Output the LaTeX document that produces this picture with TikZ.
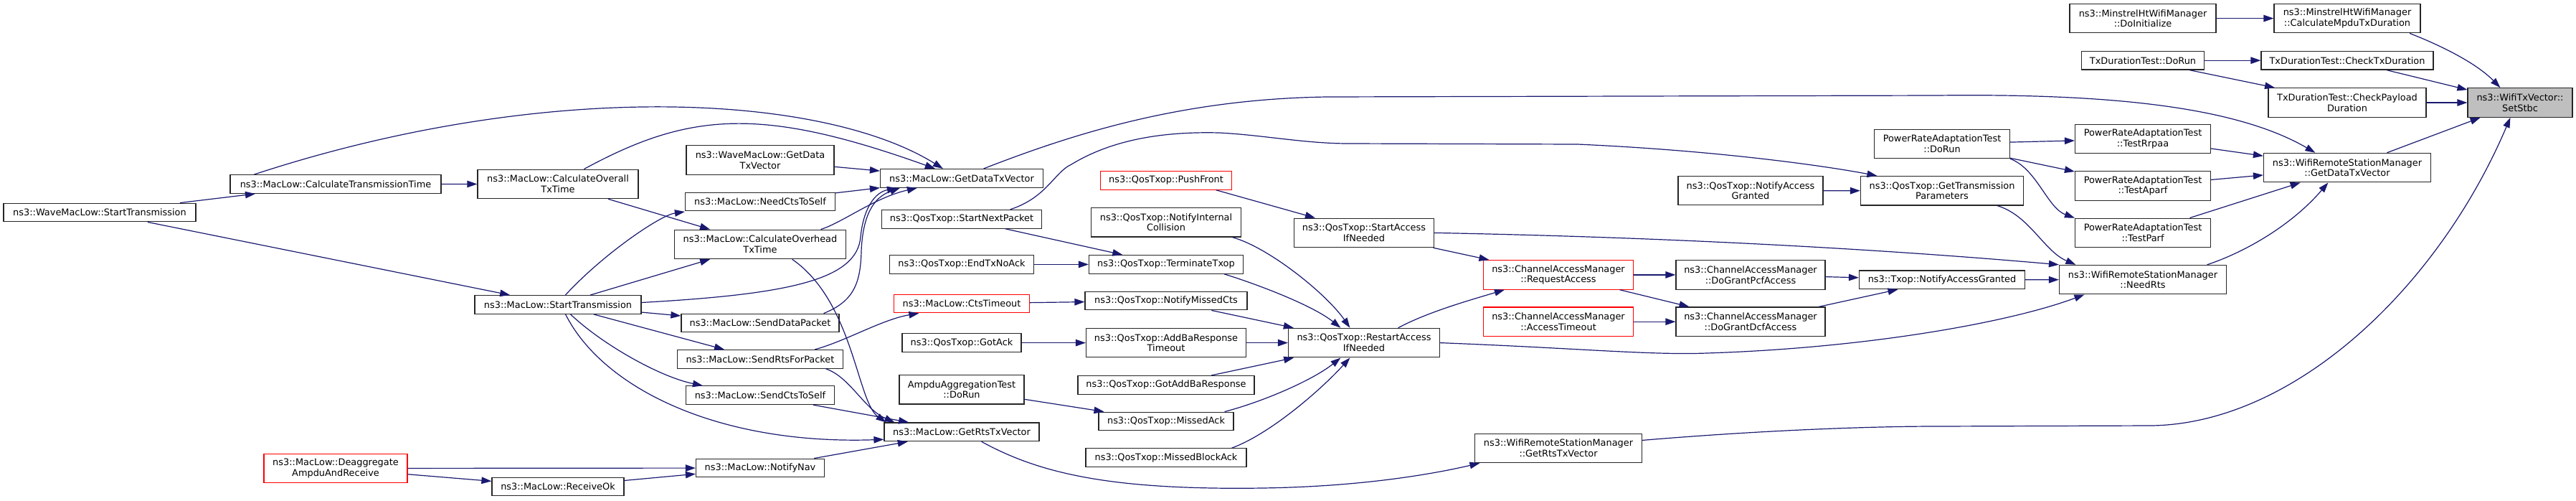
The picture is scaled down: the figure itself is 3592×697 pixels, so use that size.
\documentclass[tikz,border=0pt]{standalone}
\usepackage{fontspec}
\setmainfont{DejaVu Sans}
\usepackage{tikz}
\usetikzlibrary{arrows.meta}
\definecolor{EdgeNavy}{HTML}{191970}
\definecolor{NodeGrey}{HTML}{BFBFBF}
\tikzset{
  fn/.style={draw=black!85, line width=1.2pt, fill=white, align=center,
    inner xsep=3pt, inner ysep=2pt, minimum height=25.7pt,
    font={\fontsize{12.9pt}{14.7pt}\selectfont}},
  fntwo/.style={fn, minimum height=40.5pt},
  fnred/.style={draw=red},
  fnsel/.style={fill=NodeGrey},
  call/.style={draw=EdgeNavy, line width=1.2pt, -{Triangle[length=14pt,width=9.5pt]}}
}

\begin{document}
\begin{tikzpicture}[x=1pt,y=-1pt]
  \useasboundingbox (0,0) rectangle (3592,697);

  % column 1 and 2
  \node[fn, minimum width=268pt] (waveStartTx) at (139,296) {ns3::WaveMacLow::StartTransmission};
  \node[fn, minimum width=294pt] (calcTransTime) at (468,256.5) {ns3::MacLow::CalculateTransmissionTime};
  \node[fntwo, fnred, minimum width=200pt] (deaggregate) at (468,652.5) {ns3::MacLow::Deaggregate\\AmpduAndReceive};

  % column 3
  \node[fntwo, minimum width=224pt] (calcOverall) at (778,256.4) {ns3::MacLow::CalculateOverall\\TxTime};
  \node[fn, minimum width=232pt] (macStartTx) at (778,424.5) {ns3::MacLow::StartTransmission};
  \node[fn, minimum width=184pt] (receiveOk) at (778,678) {ns3::MacLow::ReceiveOk};

  % column 4
  \node[fntwo, minimum width=206pt] (waveGetData) at (1060,223) {ns3::WaveMacLow::GetData\\TxVector};
  \node[fn, minimum width=209pt] (needCts) at (1060,281) {ns3::MacLow::NeedCtsToSelf};
  \node[fntwo, minimum width=239pt] (calcOverhead) at (1060,340.4) {ns3::MacLow::CalculateOverhead\\TxTime};
  \node[fn, minimum width=220pt] (sendData) at (1060,450) {ns3::MacLow::SendDataPacket};
  \node[fn, minimum width=231pt] (sendRts) at (1060,500.4) {ns3::MacLow::SendRtsForPacket};
  \node[fn, minimum width=207pt] (sendCts) at (1060,550.7) {ns3::MacLow::SendCtsToSelf};
  \node[fn, minimum width=179pt] (notifyNav) at (1060,652) {ns3::MacLow::NotifyNav};

  % column 5
  \node[fn, minimum width=227pt] (macGetData) at (1341,248.4) {ns3::MacLow::GetDataTxVector};
  \node[fn, minimum width=223pt] (startNext) at (1341,305.3) {ns3::QosTxop::StartNextPacket};
  \node[fn, minimum width=201pt] (endTxNoAck) at (1341,368.4) {ns3::QosTxop::EndTxNoAck};
  \node[fn, fnred, minimum width=189pt] (ctsTimeout) at (1341,423) {ns3::MacLow::CtsTimeout};
  \node[fn, minimum width=166pt] (gotAck) at (1341,477.6) {ns3::QosTxop::GotAck};
  \node[fntwo, minimum width=174pt] (ampduDoRun) at (1341,542.7) {AmpduAggregationTest\\::DoRun};
  \node[fn, minimum width=216pt] (macGetRts) at (1341,601.8) {ns3::MacLow::GetRtsTxVector};

  % column 6
  \node[fn, fnred, minimum width=183pt] (pushFront) at (1626,251.3) {ns3::QosTxop::PushFront};
  \node[fntwo, minimum width=209pt] (notifyColl) at (1626,309.8) {ns3::QosTxop::NotifyInternal\\Collision};
  \node[fn, minimum width=215pt] (terminateTxop) at (1626,368.4) {ns3::QosTxop::TerminateTxop};
  \node[fn, minimum width=226pt] (missedCts) at (1626,419) {ns3::QosTxop::NotifyMissedCts};
  \node[fntwo, minimum width=223pt] (addBaTimeout) at (1626,477.6) {ns3::QosTxop::AddBaResponse\\Timeout};
  \node[fn, minimum width=246pt] (gotAddBa) at (1626,536.4) {ns3::QosTxop::GotAddBaResponse};
  \node[fn, minimum width=188pt] (missedAck) at (1626,587) {ns3::QosTxop::MissedAck};
  \node[fn, minimum width=224pt] (missedBlockAck) at (1626,637.6) {ns3::QosTxop::MissedBlockAck};

  % column 7 and 8
  \node[fntwo, minimum width=195pt] (startAccess) at (1902,324.4) {ns3::QosTxop::StartAccess\\IfNeeded};
  \node[fntwo, minimum width=211pt] (restartAccess) at (1902,477.6) {ns3::QosTxop::RestartAccess\\IfNeeded};
  \node[fntwo, fnred, minimum width=209pt] (requestAccess) at (2173,382.9) {ns3::ChannelAccessManager\\::RequestAccess};
  \node[fntwo, fnred, minimum width=209pt] (accessTimeout) at (2173,448.2) {ns3::ChannelAccessManager\\::AccessTimeout};
  \node[fntwo, minimum width=233pt] (wrsmGetRts) at (2173,624.4) {ns3::WifiRemoteStationManager\\::GetRtsTxVector};

  % column 9 and 10
  \node[fntwo, minimum width=202pt] (qosAccessGranted) at (2441,265.6) {ns3::QosTxop::NotifyAccess\\Granted};
  \node[fntwo, minimum width=208pt] (grantPcf) at (2441,382.9) {ns3::ChannelAccessManager\\::DoGrantPcfAccess};
  \node[fntwo, minimum width=208pt] (grantDcf) at (2441,448.2) {ns3::ChannelAccessManager\\::DoGrantDcfAccess};
  \node[fntwo, minimum width=189pt] (praDoRun) at (2708,200.4) {PowerRateAdaptationTest\\::DoRun};
  \node[fntwo, minimum width=227pt] (getTxParams) at (2708,265.8) {ns3::QosTxop::GetTransmission\\Parameters};
  \node[fn, minimum width=231pt] (txopAccessGranted) at (2708,389.8) {ns3::Txop::NotifyAccessGranted};

  % column 11 to 13
  \node[fntwo, minimum width=204pt] (minstrelInit) at (2988,25.6) {ns3::MinstrelHtWifiManager\\::DoInitialize};
  \node[fn, minimum width=171pt] (txDurDoRun) at (2988,84.2) {TxDurationTest::DoRun};
  \node[fntwo, minimum width=189pt] (testRrpaa) at (2988,193.6) {PowerRateAdaptationTest\\::TestRrpaa};
  \node[fntwo, minimum width=189pt] (testAparf) at (2988,258.9) {PowerRateAdaptationTest\\::TestAparf};
  \node[fntwo, minimum width=189pt] (testParf) at (2988,324.4) {PowerRateAdaptationTest\\::TestParf};
  \node[fntwo, minimum width=233pt] (needRts) at (2988,389.6) {ns3::WifiRemoteStationManager\\::NeedRts};
  \node[fntwo, minimum width=204pt] (calcMpdu) at (3273,25.6) {ns3::MinstrelHtWifiManager\\::CalculateMpduTxDuration};
  \node[fn, minimum width=240pt] (checkTxDur) at (3273,84.2) {TxDurationTest::CheckTxDuration};
  \node[fntwo, minimum width=220pt] (checkPayload) at (3273,143) {TxDurationTest::CheckPayload\\Duration};
  \node[fntwo, minimum width=233pt] (wrsmGetData) at (3273,233.6) {ns3::WifiRemoteStationManager\\::GetDataTxVector};
  \node[fntwo, fnsel, minimum width=146pt] (setStbc) at (3514,143) {ns3::WifiTxVector::\\SetStbc};

  % calls, left part
  \draw[call] (waveStartTx) -- (calcTransTime);
  \draw[call] (waveStartTx) -- (macStartTx);
  \draw[call] (calcTransTime) -- (calcOverall);
  \draw[call] ([xshift=34pt]calcTransTime.north west) .. controls (760,110) and (1146,130) .. ([xshift=88pt]macGetData.north west);
  \draw[call] ([xshift=149pt]calcOverall.north west) .. controls (961,156) and (1061,148) .. ([xshift=77pt]macGetData.north west);
  \draw[call] (calcOverall) -- (calcOverhead);
  \draw[call] ([xshift=127pt]macStartTx.north west) .. controls (840,355) and (920,300) .. ([yshift=-0.5pt]needCts.south west);
  \draw[call] (macStartTx) -- (calcOverhead);
  \draw[call] ([yshift=3pt]macStartTx.east) .. controls (1100,410) and (1195,390) .. (1200,330)
    .. controls (1204,290) and (1220,268) .. ([xshift=24pt]macGetData.south west);
  \draw[call] (macStartTx) -- (sendData);
  \draw[call] (macStartTx) -- (sendRts);
  \draw[call] ([xshift=-99pt]macStartTx.south east) .. controls (840,480) and (920,525) .. ([xshift=24pt]sendCts.north west);
  \draw[call] ([xshift=-106pt]macStartTx.south east) .. controls (840,540) and (1000,620) .. ([yshift=3pt]macGetRts.south west);
  \draw[call] (waveGetData) -- (macGetData);
  \draw[call] (needCts) -- (macGetData);
  \draw[call] ([xshift=-35.5pt]calcOverhead.north east) .. controls (1175,310) and (1220,275) .. ([xshift=52pt]macGetData.south west);
  \draw[call] ([xshift=-22pt]sendData.north east) .. controls (1190,420) and (1200,395) .. (1201,350)
    .. controls (1203,300) and (1218,275) .. ([xshift=28pt]macGetData.south west);
  \draw[call] ([xshift=-75.5pt]calcOverhead.south east) .. controls (1190,420) and (1195,560) .. ([xshift=3pt]macGetRts.north west);
  \draw[call] ([xshift=-24.5pt]sendRts.south east) .. controls (1185,525) and (1205,570) .. ([xshift=15pt]macGetRts.north west);
  \draw[call] ([xshift=-40pt]sendRts.north east) .. controls (1180,475) and (1230,445) .. ([xshift=35.5pt]ctsTimeout.south west);
  \draw[call] (sendCts) -- (macGetRts);
  \draw[call] (notifyNav) -- (macGetRts);
  \draw[call] (deaggregate) -- (notifyNav);
  \draw[call] (deaggregate) -- (receiveOk);
  \draw[call] (receiveOk) -- (notifyNav);

  % calls, middle part
  \draw[call] (startNext) -- (terminateTxop);
  \draw[call] (endTxNoAck) -- (terminateTxop);
  \draw[call] (ctsTimeout) -- (missedCts);
  \draw[call] (gotAck) -- (addBaTimeout);
  \draw[call] (ampduDoRun) -- (missedAck);
  \draw[call] ([xshift=-22.5pt]pushFront.south east) -- ([xshift=30pt]startAccess.north west);
  \draw[call] ([xshift=-12.5pt]notifyColl.south east) .. controls (1770,345) and (1850,410) .. ([xshift=86.5pt]restartAccess.north west);
  \draw[call] ([xshift=-27pt]terminateTxop.south east) .. controls (1750,395) and (1830,425) .. ([xshift=73.5pt]restartAccess.north west);
  \draw[call] (missedCts) -- (restartAccess);
  \draw[call] (addBaTimeout) -- (restartAccess);
  \draw[call] (gotAddBa) -- (restartAccess);
  \draw[call] ([xshift=-13pt]missedAck.north east) .. controls (1760,560) and (1830,530) .. ([xshift=73.5pt]restartAccess.south west);
  \draw[call] ([xshift=-21pt]missedBlockAck.north east) .. controls (1770,605) and (1840,545) .. ([xshift=86.5pt]restartAccess.south west);
  \draw[call] ([xshift=-81pt]macGetRts.south east) .. controls (1450,660) and (1550,683) .. (1760,680)
    .. controls (1900,678) and (2000,660) .. ([xshift=7.5pt]wrsmGetRts.south west);
  \draw[call] ([xshift=-83.5pt]macGetData.north east) .. controls (1500,185) and (1650,138) .. (1850,135)
    -- (2700,133) .. controls (2950,130) and (3120,150) .. ([xshift=72.5pt]wrsmGetData.north west);
  \draw[call] ([xshift=-44.5pt]startNext.north east) .. controls (1460,275) and (1470,240) .. (1494,229)
    .. controls (1550,195) and (1620,183) .. (1700,185) .. controls (1760,188) and (1820,200) .. (1880,200)
    -- (2200,201) .. controls (2400,210) and (2550,232) .. ([xshift=23.5pt]getTxParams.north west);

  % calls, right part
  \draw[call] (startAccess) -- (requestAccess);
  \draw[call] (startAccess.east) .. controls (2300,330) and (2600,345) .. (needRts.north west);
  \draw[call] ([xshift=-58.5pt]restartAccess.north east) .. controls (1990,435) and (2050,418) .. ([xshift=30pt]requestAccess.south west);
  \draw[call] (restartAccess.east) .. controls (2200,485) and (2300,495) .. (2380,492)
    .. controls (2600,485) and (2800,450) .. ([xshift=35.5pt]needRts.south west);
  \draw[call] (requestAccess) -- (grantPcf);
  \draw[call] (requestAccess) -- (grantDcf);
  \draw[call] (accessTimeout) -- (grantDcf);
  \draw[call] (grantPcf) -- (txopAccessGranted);
  \draw[call] (grantDcf) -- (txopAccessGranted);
  \draw[call] (qosAccessGranted) -- (getTxParams);
  \draw[call] ([yshift=11pt]wrsmGetRts.east) .. controls (2450,600) and (2600,594) .. (2700,594)
    -- (3000,593) .. controls (3200,590) and (3400,400) .. ([xshift=60pt]setStbc.south west);
  \draw[call] (praDoRun) -- (testRrpaa);
  \draw[call] (praDoRun) -- (testAparf);
  \draw[call] (praDoRun.south east) .. controls (2840,235) and (2855,290) .. (testParf.north west);
  \draw[call] ([xshift=-37pt]getTxParams.south east) .. controls (2830,300) and (2850,350) .. ([xshift=23.5pt]needRts.north west);
  \draw[call] (txopAccessGranted) -- (needRts);
  \draw[call] (testRrpaa) -- (wrsmGetData);
  \draw[call] (testAparf) -- (wrsmGetData);
  \draw[call] (testParf) -- (wrsmGetData);
  \draw[call] ([xshift=-27.5pt]needRts.north east) .. controls (3120,355) and (3190,320) .. ([xshift=90.5pt]wrsmGetData.south west);
  \draw[call] (minstrelInit) -- (calcMpdu);
  \draw[call] ([xshift=-15.5pt]calcMpdu.south east) .. controls (3395,60) and (3450,85) .. ([xshift=46pt]setStbc.north west);
  \draw[call] (txDurDoRun) -- (checkTxDur);
  \draw[call] (txDurDoRun) -- (checkPayload);
  \draw[call] (checkTxDur) -- (setStbc);
  \draw[call] (checkPayload) -- (setStbc);
  \draw[call] (wrsmGetData) -- (setStbc);
\end{tikzpicture}
\end{document}
